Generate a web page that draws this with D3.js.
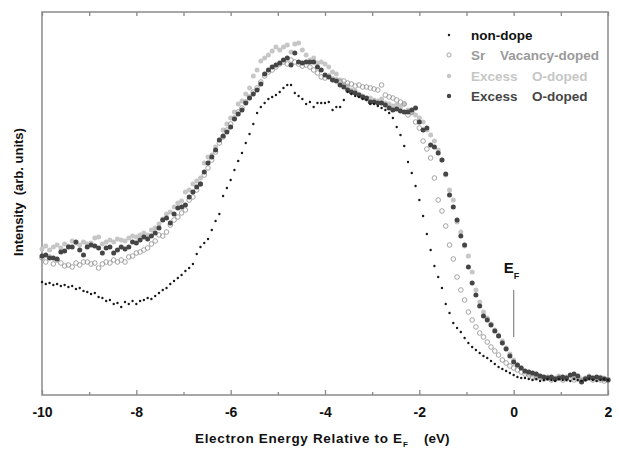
<!DOCTYPE html>
<html><head><meta charset="utf-8">
<script src="https://cdn.jsdelivr.net/npm/d3@7"></script>
<style>
body{margin:0;background:#fff}
text{font-family:"Liberation Sans",Arial,Helvetica,sans-serif;font-weight:bold}
</style>
</head><body>
<svg id="chart" width="619" height="449"></svg>
<script>
// Energy grid (eV relative to E_F) of the measurement
const energyStart = -10, energyStep = 0.08;

// Intensities (arb. units)
const nonDope = [113,111,112,110,111,109,110,108,109,106, 107,104,103,101,102,98,97,94,95,91, 92,88,93,91,94,91,94,95,97,96, 99,102,105,107,111,114,117,120,124,127, 131,141,148,152,156,165,174,181,199,207, 215,225,234,242,252,261,271,282,288,292, 296,298,300,303,307,310,310,302,299,296, 291,293,288,292,292,292,293,285,288,288, 295,303,301,299,298,296,295,291,291,289, 287,285,282,277,268,260,249,233,222,209, 195,179,161,145,129,118,107,91,82,72, 67,63,57,52,48,45,42,39,37,34, 31,28,26,24,22,20,18,17,17,16, 15,16,14,15,16,15,14,16,15,15, 14,16,15,14,15,16,15,14,15,16, 15];
const srVacancy = [137,133,138,131,135,132,129,130,128,132, 130,133,133,131,132,127,131,133,132,135, 133,135,133,138,139,142,143,145,147,151, 154,160,159,163,170,175,178,182,185,195, 198,205,211,220,227,235,243,252,258,265, 271,277,283,287,293,298,303,307,313,319, 323,325,328,331,333,331,335,333,331,329, 330,328,325,322,318,317,319,316,315,313, 314,312,311,309,310,308,308,307,306,305, 310,300,298,297,295,293,291,280,283,273, 267,254,246,237,217,195,184,169,150,136, 118,105,95,83,75,68,62,58,53,48, 44,40,35,32,29,27,25,23,21,20, 18,17,18,16,17,15,16,17,15,16, 17,15,16,14,16,17,15,16,15,14, 15];
const excessOLight = [146,149,145,148,150,147,151,149,154,152, 150,153,151,152,157,158,151,153,155,153, 156,155,154,157,159,158,160,162,160,165, 167,171,176,181,183,188,192,194,203,205, 211,214,217,232,238,240,248,255,265,271, 277,283,291,294,301,307,319,325,334,337, 340,344,348,345,348,350,343,351,352,345, 340,335,337,332,333,331,328,323,321,315, 311,309,305,304,301,299,296,297,295,294, 296,292,291,289,290,288,291,285,282,280, 277,273,265,260,254,245,235,220,205,195, 173,163,149,139,123,105,93,83,77,71, 65,60,54,47,41,35,30,27,23,21, 20,18,19,17,18,16,17,19,17,18, 19,17,18,16,17,19,17,16,18,17, 16];
const excessODark = [139,140,137,137,136,143,144,148,148,153, 145,140,148,150,149,147,142,147,148,142, 145,148,146,148,153,152,155,158,156,159, 162,167,175,177,172,181,187,188,190,198, 203,208,211,223,232,238,245,255,259,263, 268,276,281,285,292,297,301,305,311,321, 325,328,330,332,335,337,330,342,333,332, 333,333,333,328,325,320,318,315,314,310, 308,305,303,302,300,298,297,293,293,292, 292,290,287,285,286,284,283,283,285,287, 273,265,267,250,248,242,235,221,200,188, 175,159,150,128,112,100,89,79,75,70, 64,59,52,46,39,33,30,27,24,23, 22,21,19,18,17,18,16,17,18,17, 20,21,19,13,16,18,17,18,17,16, 15];

const energy = nonDope.map((_, i) => +(energyStart + i * energyStep).toFixed(2));

const xMajorTicks = [-10, -8, -6, -4, -2, 0, 2];
const xMinorTicks = [-9, -7, -5, -3, -1, 1];
const allTicks = [-10,-9,-8,-7,-6,-5,-4,-3,-2,-1,0,1,2];
const legendLabels = [["non-dope"], ["Sr", "Vacancy-doped"], ["Excess", "O-doped"], ["Excess", "O-doped"]];

const svg = d3.select("#chart");
const x = d3.scaleLinear().domain([-10, 2]).range([42, 608]);
const y = d3.scaleLinear().domain([0, 383]).range([395, 12]);

const frameColor = "#8a8a8a";

// ticks bottom
const gb = svg.append("g").attr("transform", `translate(0,${y(0)})`);
gb.call(d3.axisBottom(x).tickValues(xMajorTicks).tickSize(-5).tickPadding(12).tickFormat(d => String(d)));
gb.select(".domain").remove();
gb.selectAll("line").attr("stroke", frameColor).attr("stroke-width", 1.3);
gb.selectAll("text").attr("font-size", 14).attr("fill", "#111").style("font-family", '"Liberation Sans",Arial,sans-serif').style("font-weight", "bold");
const gbm = svg.append("g").attr("transform", `translate(0,${y(0)})`);
gbm.call(d3.axisBottom(x).tickValues(xMinorTicks).tickSize(-3).tickFormat(""));
gbm.select(".domain").remove();
gbm.selectAll("line").attr("stroke", frameColor).attr("stroke-width", 1.3);

// ticks top
const gt = svg.append("g").attr("transform", `translate(0,${y(383)})`);
gt.call(d3.axisTop(x).tickValues(allTicks).tickSize(-4).tickFormat(""));
gt.select(".domain").remove();
gt.selectAll("line").attr("stroke", frameColor).attr("stroke-width", 1.3);

// frame
svg.append("rect").attr("x", x(-10)).attr("y", y(383)).attr("width", x(2) - x(-10)).attr("height", y(0) - y(383))
  .attr("fill", "none").attr("stroke", frameColor).attr("stroke-width", 1.5);

const pts = (vals) => vals.map((v, i) => [energy[i], v]);

// Excess O-doped (light)
svg.append("g").selectAll("circle").data(pts(excessOLight)).join("circle")
  .attr("cx", d => x(d[0])).attr("cy", d => y(d[1])).attr("r", 2.5).attr("fill", "#c6c6c6");
// Sr vacancy-doped (open)
svg.append("g").selectAll("circle").data(pts(srVacancy)).join("circle")
  .attr("cx", d => x(d[0])).attr("cy", d => y(d[1])).attr("r", 2.3)
  .attr("fill", "none").attr("stroke", "#9a9a9a").attr("stroke-width", 0.9);
// Excess O-doped (dark)
svg.append("g").selectAll("circle").data(pts(excessODark)).join("circle")
  .attr("cx", d => x(d[0])).attr("cy", d => y(d[1])).attr("r", 2.5).attr("fill", "#454545");
// non-dope
svg.append("g").selectAll("circle").data(pts(nonDope)).join("circle")
  .attr("cx", d => x(d[0])).attr("cy", d => y(d[1])).attr("r", 1.2).attr("fill", "#1a1a1a");

// E_F marker
svg.append("line").attr("x1", x(0)).attr("x2", x(0)).attr("y1", 290).attr("y2", 337)
  .attr("stroke", "#888").attr("stroke-width", 1.2);
const ef = svg.append("text").attr("x", x(0) - 10).attr("y", 273).attr("font-size", 15).attr("fill", "#111");
ef.append("tspan").text("E");
ef.append("tspan").attr("font-size", 9).attr("dy", 6).text("F");

// legend
const legX = 449, legTextX = 471, legY = [35, 55, 76, 96];
const legStyles = [
  {type: "nd", text: "#111"},
  {type: "sv", text: "#9a9a9a"},
  {type: "lg", text: "#c6c6c6"},
  {type: "dk", text: "#454545"}
];
legStyles.forEach((s, i) => {
  const cy = legY[i];
  if (s.type === "nd") svg.append("circle").attr("cx", legX).attr("cy", cy).attr("r", 1.2).attr("fill", "#1a1a1a");
  if (s.type === "sv") svg.append("circle").attr("cx", legX).attr("cy", cy).attr("r", 2.1).attr("fill", "none").attr("stroke", "#9a9a9a").attr("stroke-width", 0.9);
  if (s.type === "lg") svg.append("circle").attr("cx", legX).attr("cy", cy).attr("r", 2.2).attr("fill", "#c6c6c6");
  if (s.type === "dk") svg.append("circle").attr("cx", legX).attr("cy", cy).attr("r", 2.2).attr("fill", "#454545");
  const t = svg.append("text").attr("y", cy + 5).attr("font-size", 13.5).attr("fill", s.text);
  const parts = legendLabels[i];
  t.append("tspan").attr("x", legTextX).text(parts[0]);
  if (parts.length > 1) {
    const second = parts[0] === "Sr" ? 500 : 532;
    t.append("tspan").attr("x", second).text(parts[1]);
  }
});

// axis titles
const xt = svg.append("text").attr("y", 443).attr("font-size", 13.5).attr("fill", "#111");
xt.append("tspan").attr("x", 195).attr("textLength", 207).attr("lengthAdjust", "spacing").text("Electron Energy Relative to E");
xt.append("tspan").attr("x", 403).attr("dy", 4).attr("font-size", 8).text("F");
xt.append("tspan").attr("x", 424).attr("dy", -4).text("(eV)");

svg.append("text").attr("transform", "translate(23,192) rotate(-90)").attr("text-anchor", "middle")
  .attr("font-size", 13).attr("fill", "#111").style("white-space", "pre").text("Intensity  (arb. units)");
</script>
</body></html>
